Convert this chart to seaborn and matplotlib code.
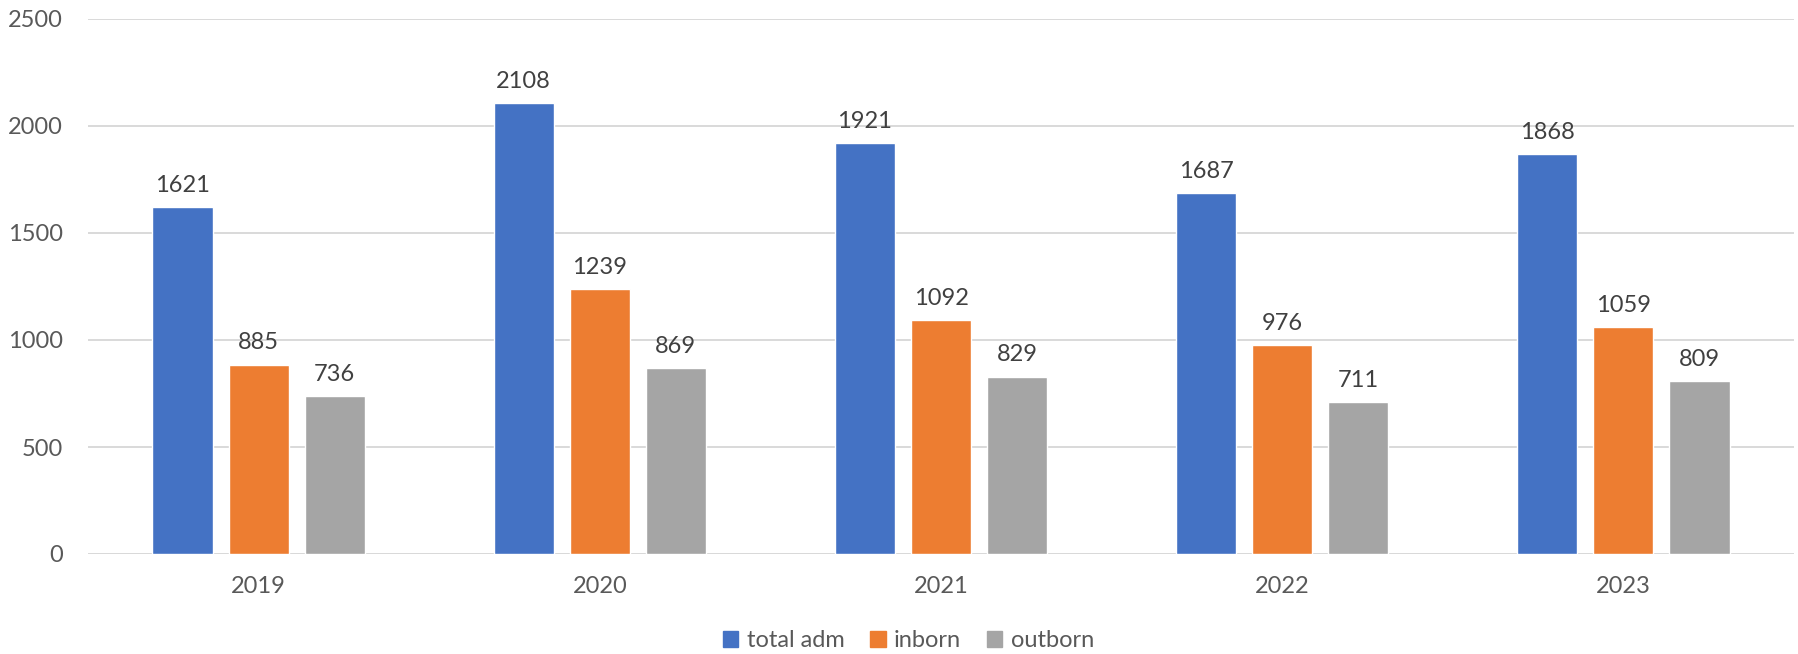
import pandas as pd
import matplotlib.pyplot as plt
import seaborn as sns

# --- data ---
years = ["2019", "2020", "2021", "2022", "2023"]
total_adm = [1621, 2108, 1921, 1687, 1868]
inborn = [885, 1239, 1092, 976, 1059]
outborn = [736, 869, 829, 711, 809]
series = ["total adm", "inborn", "outborn"]
colors = ["#4472C4", "#ED7D31", "#A5A5A5"]

df = pd.DataFrame({
    "year": years * 3,
    "value": total_adm + inborn + outborn,
    "series": [s for s in series for _ in years],
})

sns.set_style("white")
plt.rcParams["font.family"] = ["Lato", "DejaVu Sans"]

fig = plt.figure(figsize=(17.99, 6.54), dpi=100)
ax = fig.add_axes([88 / 1799, 100 / 654, (1794 - 88) / 1799, (554 - 19) / 654])

sns.barplot(data=df, x="year", y="value", hue="series", hue_order=series,
            palette=colors, width=0.669, gap=0.21, ax=ax, saturation=1,
            legend=False)

for c in ax.containers:
    ax.bar_label(c, fmt="%d", padding=8, fontsize=17, color="#404040")

ax.set_ylim(0, 2500)
ax.set_yticks(range(0, 2501, 500))
ax.set_xlim(-0.5, len(years) - 0.5)
ax.set_xlabel("")
ax.set_ylabel("")
ax.yaxis.grid(True, color="#D9D9D9", linewidth=1.4)
ax.set_axisbelow(True)
sns.despine(ax=ax, left=True, top=True, right=True, bottom=True)
ax.axhline(0, color="#D9D9D9", linewidth=1.4, zorder=0)
ax.tick_params(axis="y", length=0, pad=18, labelsize=17, labelcolor="#595959")
ax.tick_params(axis="x", length=0, pad=16, labelsize=17, labelcolor="#595959")

handles = [plt.Rectangle((0, 0), 1, 1, color=col) for col in colors]
fig.legend(handles, series, loc="center", bbox_to_anchor=(0.505, 0.02),
           ncol=3, frameon=False, fontsize=17, labelcolor="#595959",
           handlelength=0.65, handleheight=0.65, handletextpad=0.35,
           columnspacing=1.1)

fig.savefig("out.png", dpi=100)
